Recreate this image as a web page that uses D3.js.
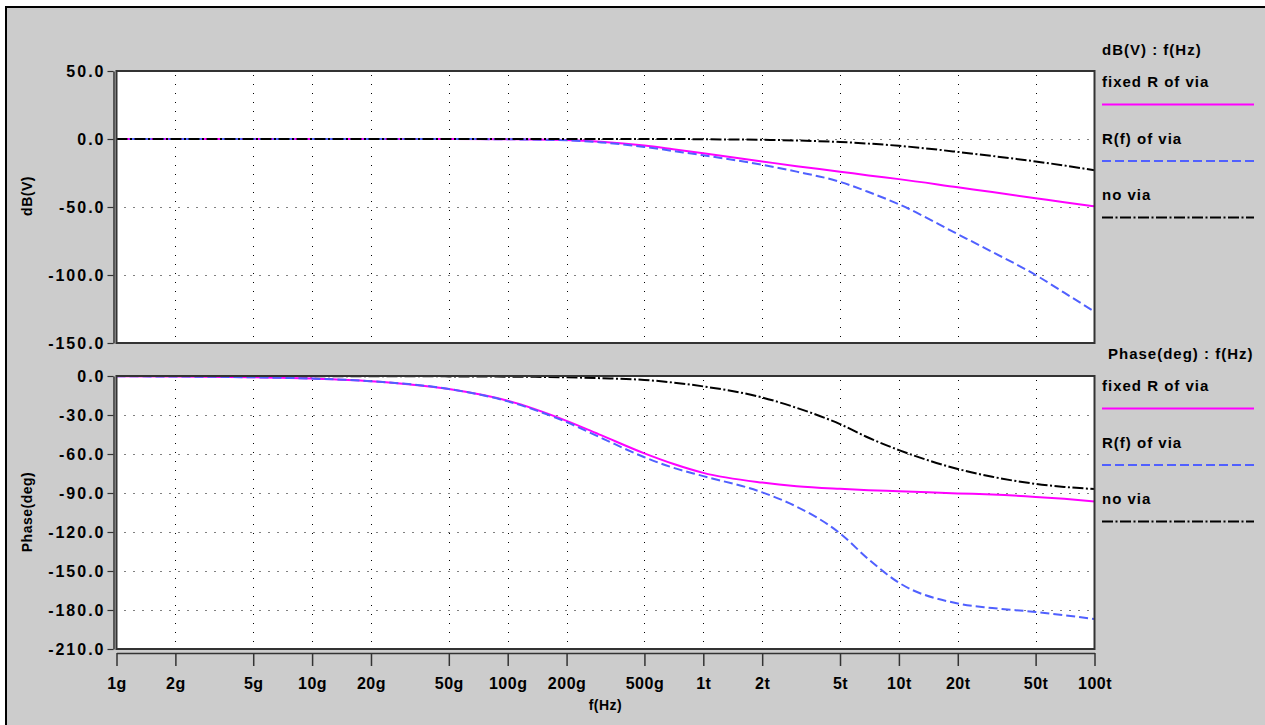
<!DOCTYPE html>
<html>
<head>
<meta charset="utf-8">
<script src="https://cdn.jsdelivr.net/npm/d3@7"></script>
<style>
  html, body { margin: 0; padding: 0; background: #fff; overflow: hidden; }
  svg { display: block; }
  text { font-family: 'Liberation Sans', Arial, sans-serif; font-weight: bold; fill: #000; }
</style>
</head>
<body>
<div id="chart"></div>
<script>
// Frequencies (Hz) and read-off values for the three traces
const freqs = [1e9, 2e9, 5e9, 1e10, 2e10, 5e10, 1e11, 2e11, 3e11, 5e11, 7e11,
  1e12, 2e12, 3e12, 5e12, 7e12, 1e13, 2e13, 3e13, 5e13, 7e13, 1e14];

const dbFixed = [0, 0, 0, 0, 0, 0, -0.2, -0.8, -2, -4.8, -7.5,
  -10.5, -16.5, -20, -24, -26.8, -29.5, -35.5, -39, -43.5, -46.5, -49.5];
const dbRf = [0, 0, 0, 0, 0, 0, -0.2, -1, -2.5, -5.8, -8.8,
  -12, -19, -24, -31.5, -39, -48, -70, -83, -100, -113, -127];
const dbNoVia = [0, 0, 0, 0, 0, 0, 0, 0, 0, 0, 0,
  -0.2, -0.6, -1.1, -2.2, -3.4, -5, -9.5, -12.5, -16.5, -19.5, -23];

const phFixed = [-0.2, -0.4, -1, -2, -4, -10, -19, -34.5, -45.5, -59.5, -67.5,
  -74.5, -82, -84.8, -86.8, -87.8, -88.6, -90.3, -91.2, -93, -94.5, -96.5];
const phRf = [-0.2, -0.4, -1, -2, -4, -10, -19.5, -35.5, -47.5, -62.5, -70.5,
  -77, -89.5, -100.5, -121, -141, -159, -175, -178.5, -181.5, -184, -187];
const phNoVia = [0, 0, 0, -0.1, -0.1, -0.3, -0.5, -1, -1.7, -3, -5,
  -8, -16.5, -24.5, -37, -47.5, -57, -71.5, -77.5, -83, -85.3, -87];

const xTicks = [1e9, 2e9, 5e9, 1e10, 2e10, 5e10, 1e11, 2e11, 5e11,
  1e12, 2e12, 5e12, 1e13, 2e13, 5e13, 1e14];
const xTickLabels = ['1g', '2g', '5g', '10g', '20g', '50g', '100g', '200g', '500g',
  '1t', '2t', '5t', '10t', '20t', '50t', '100t'];
const dbTicks = [50, 0, -50, -100, -150];
const phTicks = [0, -30, -60, -90, -120, -150, -180, -210];

const seriesNames = ['fixed R of via', 'R(f) of via', 'no via'];

const W = 1265, H = 725;
const styles = [
  { color: '#ff00ff', dash: null },
  { color: '#5060ff', dash: '9,4' },
  { color: '#000000', dash: '11,2.5,2,2.5' }
];

const svg = d3.select('#chart').append('svg')
  .attr('width', W).attr('height', H);

// grey window background with border
svg.append('rect')
  .attr('x', 6).attr('y', 7).attr('width', W + 10).attr('height', H + 10)
  .attr('fill', '#cccccc').attr('stroke', '#000').attr('stroke-width', 2);

const left = 116.5, right = 1094.5;
const x = d3.scaleLog().domain([1e9, 1e14]).range([left, right]);

const panels = [
  { top: 71, bottom: 343, domain: [-150, 50], ticks: dbTicks, data: [dbFixed, dbRf, dbNoVia],
    title: 'dB(V)', titleY: 196, legendTitle: 'dB(V) : f(Hz)', legendX: 1102, legendY: 50 },
  { top: 376, bottom: 649, domain: [-210, 0], ticks: phTicks, data: [phFixed, phRf, phNoVia],
    title: 'Phase(deg)', titleY: 512, legendTitle: 'Phase(deg) : f(Hz)', legendX: 1108, legendY: 354 }
];

panels.forEach((p, pi) => {
  const y = d3.scaleLinear().domain(p.domain).range([p.bottom, p.top]);

  svg.append('rect')
    .attr('x', left).attr('y', p.top)
    .attr('width', right - left).attr('height', p.bottom - p.top)
    .attr('fill', '#fff');

  // dotted grid
  const grid = svg.append('g').attr('stroke', '#000').attr('stroke-width', 1)
    .attr('stroke-dasharray', '1,8');
  grid.selectAll('.vg').data(xTicks.slice(1, -1)).join('line')
    .attr('x1', d => Math.round(x(d)) + 0.5).attr('x2', d => Math.round(x(d)) + 0.5)
    .attr('y1', p.top + 4).attr('y2', p.bottom);
  grid.selectAll('.hg').data(p.ticks.slice(1, -1)).join('line')
    .attr('x1', left + 8).attr('x2', right)
    .attr('y1', d => Math.round(y(d)) + 0.5).attr('y2', d => Math.round(y(d)) + 0.5);

  // traces
  const clipId = 'clip' + pi;
  svg.append('clipPath').attr('id', clipId).append('rect')
    .attr('x', left).attr('y', p.top - 1)
    .attr('width', right - left).attr('height', p.bottom - p.top + 2);

  const line = d3.line()
    .x((d, i) => x(freqs[i]))
    .y(d => y(d))
    .curve(d3.curveMonotoneX);

  const traces = svg.append('g').attr('clip-path', `url(#${clipId})`);
  p.data.forEach((vals, si) => {
    traces.append('path')
      .datum(vals)
      .attr('d', line)
      .attr('fill', 'none')
      .attr('stroke', styles[si].color)
      .attr('stroke-width', 2)
      .attr('stroke-dasharray', styles[si].dash);
  });

  // plot frame
  svg.append('rect')
    .attr('x', left).attr('y', p.top)
    .attr('width', right - left).attr('height', p.bottom - p.top)
    .attr('fill', 'none').attr('stroke', '#333').attr('stroke-width', 2);

  // y axis
  const yAxis = svg.append('g')
    .attr('transform', 'translate(113.5,0)')
    .call(d3.axisLeft(y).tickValues(p.ticks).tickSize(6).tickSizeOuter(0).tickPadding(2)
      .tickFormat(d => d.toFixed(1)));
  yAxis.select('.domain').attr('stroke', '#333').attr('stroke-width', 1.5);
  yAxis.selectAll('.tick line').attr('stroke', '#333').attr('stroke-width', 1.2);
  yAxis.selectAll('.tick text')
    .attr('font-family', null).attr('font-size', 16)
    .style('letter-spacing', '2px');

  svg.append('text')
    .attr('transform', `translate(32,${p.titleY}) rotate(-90)`)
    .attr('text-anchor', 'middle')
    .attr('font-size', 14)
    .style('letter-spacing', '0.5px')
    .text(p.title);

  // legend
  svg.append('text')
    .attr('x', p.legendX).attr('y', p.legendY + 5)
    .attr('font-size', 15)
    .style('letter-spacing', '1px')
    .text(p.legendTitle);

  seriesNames.forEach((name, si) => {
    const ty = p.legendY + 32 + si * 56.5;
    svg.append('text')
      .attr('x', 1102).attr('y', ty + 5)
      .attr('font-size', 15)
      .style('letter-spacing', '1px')
      .text(name);
    svg.append('line')
      .attr('x1', 1102).attr('x2', 1254)
      .attr('y1', ty + 22.5).attr('y2', ty + 22.5)
      .attr('stroke', styles[si].color)
      .attr('stroke-width', 2)
      .attr('stroke-dasharray', styles[si].dash);
  });
});

// x axis
const xAxis = svg.append('g')
  .attr('transform', 'translate(0,653)')
  .call(d3.axisBottom(x).tickValues(xTicks).tickSize(13).tickSizeOuter(0).tickPadding(12)
    .tickFormat((d, i) => xTickLabels[i]));
xAxis.select('.domain').attr('stroke', '#333').attr('stroke-width', 1.5);
xAxis.selectAll('.tick line').attr('stroke', '#333').attr('stroke-width', 1.5);
xAxis.selectAll('.tick text')
  .attr('font-family', null).attr('font-size', 16)
  .style('letter-spacing', '0.5px');

svg.append('text')
  .attr('x', (left + right) / 2).attr('y', 710)
  .attr('text-anchor', 'middle')
  .attr('font-size', 14)
  .style('letter-spacing', '0.5px')
  .text('f(Hz)');
</script>
</body>
</html>
